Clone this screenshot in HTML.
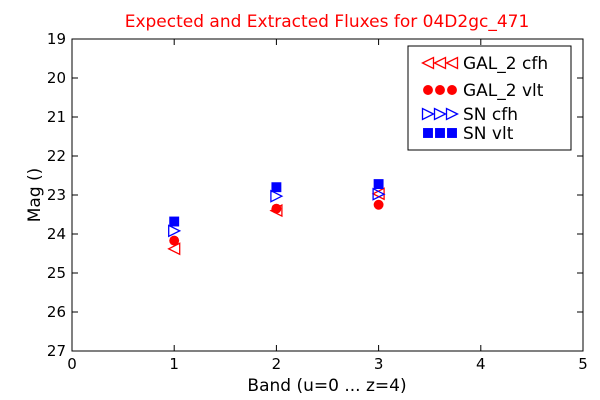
<!DOCTYPE html>
<html><head><meta charset="utf-8"><style>body{margin:0;background:#fff}svg{display:block;font-family:"DejaVu Sans","Liberation Sans",sans-serif}</style></head>
<body>
<svg id="chart" width="600" height="400" xmlns="http://www.w3.org/2000/svg">
<rect width="600" height="400" fill="#fff"/>
<text x="327" y="27" text-anchor="middle" font-size="17" fill="#ff0000">Expected and Extracted Fluxes for 04D2gc_471</text>
<g id="axes"></g>
<g id="marks"></g>
<rect x="72" y="39" width="511" height="312" fill="none" stroke="#000" stroke-width="1"/>
<text x="327" y="391" text-anchor="middle" font-size="17">Band (u=0 ... z=4)</text>
<text transform="translate(40,195) rotate(-90)" text-anchor="middle" font-size="17">Mag ()</text>
<g>
<rect x="408" y="46" width="163" height="104" fill="#fff" stroke="#000"/>
<g id="legend"></g>
</g>
</svg>
<script>
const bands=[1,2,3];
const galCfh=[24.38,23.40,22.97];
const galVlt=[24.17,23.35,23.25];
const snCfh=[23.92,23.03,22.98];
const snVlt=[23.68,22.80,22.72];
const xTicks=[0,1,2,3,4,5];
const yTicks=[19,20,21,22,23,24,25,26,27];
const legendLabels=["GAL_2 cfh","GAL_2 vlt","SN cfh","SN vlt"];

const NS="http://www.w3.org/2000/svg";
const X=v=>72+(v-0)*(511/5);
const Y=v=>39+(v-19)*(312/8);
function mk(t,a){const e=document.createElementNS(NS,t);for(const k in a)e.setAttribute(k,a[k]);return e;}
const axes=document.getElementById('axes');
xTicks.forEach(t=>{
 const x=X(t);
 const g=mk('g',{});
 
 
 g.appendChild(mk('line',{x1:x,x2:x,y1:351,y2:345,stroke:'#000'}));
 g.appendChild(mk('line',{x1:x,x2:x,y1:39,y2:45,stroke:'#000'}));
 const tx=mk('text',{x:x,y:369,'text-anchor':'middle','font-size':15});tx.textContent=t;g.appendChild(tx);
 axes.appendChild(g);
});
yTicks.forEach(t=>{
 const y=Y(t);
 const g=mk('g',{});
 
 
 g.appendChild(mk('line',{x1:72,x2:78,y1:y,y2:y,stroke:'#000'}));
 g.appendChild(mk('line',{x1:583,x2:577,y1:y,y2:y,stroke:'#000'}));
 const tx=mk('text',{x:66,y:y+5,'text-anchor':'end','font-size':15});tx.textContent=t;g.appendChild(tx);
 axes.appendChild(g);
});
function marker(kind,cx,cy,s){
 if(kind==='left')return mk('polygon',{points:`${cx-s},${cy} ${cx+s},${cy-s} ${cx+s},${cy+s}`,fill:'none',stroke:'#ff0000','stroke-width':1.3});
 if(kind==='right')return mk('polygon',{points:`${cx+s},${cy} ${cx-s},${cy-s} ${cx-s},${cy+s}`,fill:'none',stroke:'#0000ff','stroke-width':1.3});
 if(kind==='circle')return mk('circle',{cx:cx,cy:cy,r:s*0.9,fill:'#ff0000'});
 return mk('rect',{x:cx-s*0.9,y:cy-s*0.9,width:s*1.8,height:s*1.8,fill:'#0000ff'});
}
const series=[['left',galCfh,'gal-cfh'],['circle',galVlt,'gal-vlt'],['right',snCfh,'sn-cfh'],['square',snVlt,'sn-vlt']];
const marks=document.getElementById('marks');
series.forEach(([k,vals,nm])=>{
 vals.forEach((v,i)=>{
  const m=marker(k,X(bands[i]),Y(v),5.5);
  
  
  marks.appendChild(m);
 });
});
const leg=document.getElementById('legend');
const ly=[63,90,114,133];
series.forEach(([k,v,nm],i)=>{
 const g=mk('g',{});
 
 
 [428,440,452].forEach(x=>g.appendChild(marker(k,x,ly[i],5.5)));
 const t=mk('text',{x:463,y:ly[i]+6,'font-size':17});t.textContent=legendLabels[i];g.appendChild(t);
 leg.appendChild(g);
});
</script>
</body></html>
